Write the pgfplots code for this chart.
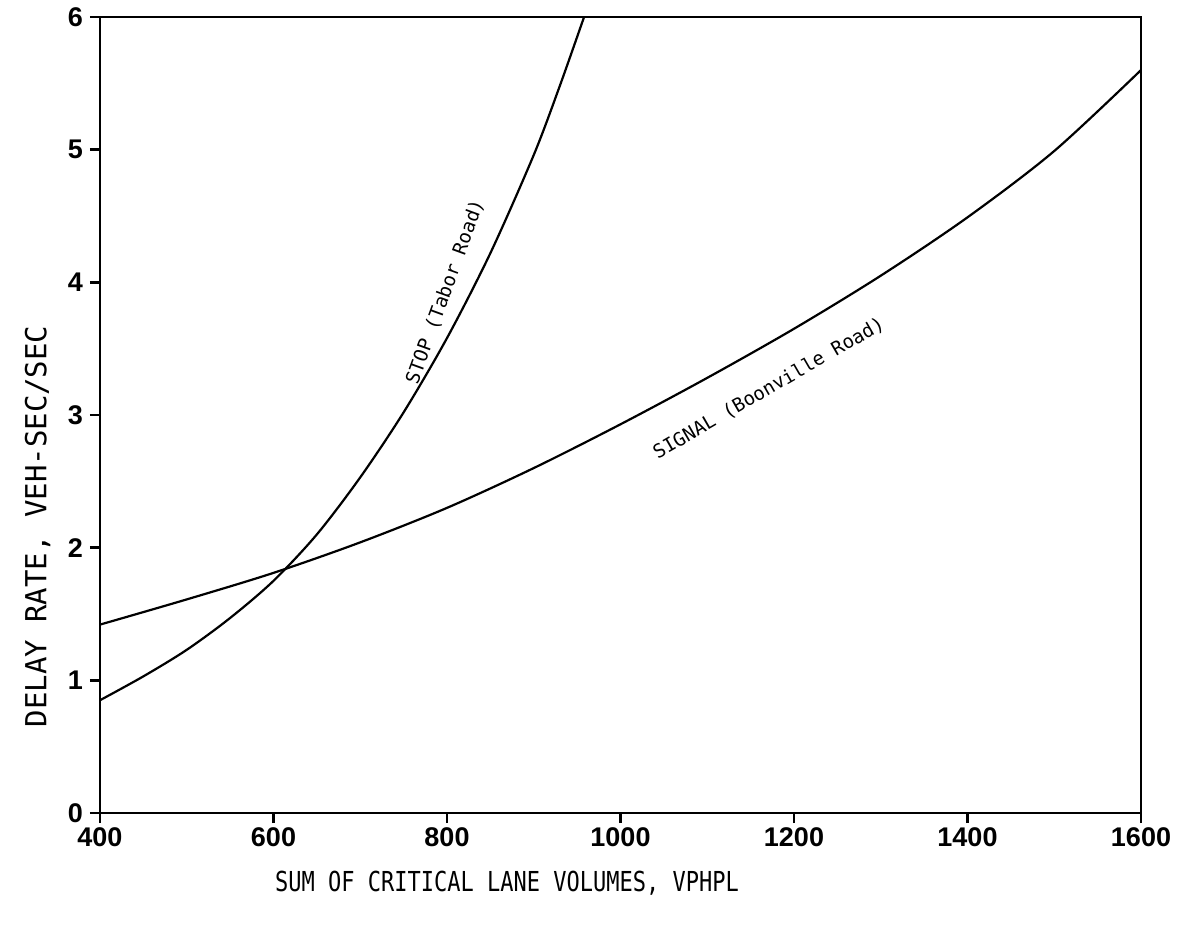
\documentclass[border=0pt]{standalone}
\usepackage{pgfplots}
\pgfplotsset{compat=1.18}
\usepackage{fontspec}
\setsansfont{Liberation Sans}
\newfontfamily\plotmono{DejaVu Sans Mono}

\begin{document}
\begin{tikzpicture}
  % picture size of the reference: 1189 x 926 px -> 594.5 x 463 pt
  \path[use as bounding box] (-50pt,-56.5pt) rectangle (544.5pt,406.5pt);
  \begin{axis}[
      at={(0,0)}, anchor=south west,
      scale only axis,
      width=520.5pt, height=398pt,
      xmin=400, xmax=1600, ymin=0, ymax=6,
      xtick={400,600,...,1600},
      ytick={0,1,...,6},
      xtick pos=bottom, ytick pos=left,
      tick align=outside,
      major tick length=5pt,
      axis line style={line width=1.4pt},
      every tick/.style={line width=1.2pt, black},
      /pgf/number format/1000 sep={},
      /pgf/number format/assume math mode=true,
      ticklabel style={font=\sffamily\bfseries\fontsize{13.5}{15}\selectfont},
      xticklabel style={yshift=1pt},
      xlabel={\scalebox{1}[1.25]{SUM OF CRITICAL LANE VOLUMES, VPHPL}},
      xlabel style={font=\plotmono\fontsize{11}{13}\selectfont,
        at={(axis description cs:0.391,-0.088)}, anchor=center},
      ylabel={DELAY RATE, VEH-SEC/SEC},
      ylabel style={font=\plotmono\fontsize{14.5}{16}\selectfont,
        at={(axis description cs:-0.06,0.36)}, anchor=center},
      clip=false,
    ]
    % SIGNAL (Boonville Road)
    \addplot[black, line width=1.1pt, smooth] coordinates {
      (400,1.42) (500,1.61) (600,1.81) (700,2.04) (800,2.30) (900,2.60)
      (1000,2.93) (1100,3.28) (1200,3.65) (1300,4.05) (1400,4.49)
      (1500,4.99) (1600,5.60)
    };
    % STOP (Tabor Road)
    \addplot[black, line width=1.1pt, smooth] coordinates {
      (400,0.85) (450,1.03) (500,1.23) (550,1.47) (600,1.75) (650,2.10)
      (700,2.53) (750,3.02) (800,3.58) (850,4.22) (900,4.96) (930,5.48)
      (958,6.00)
    };
    \node[font=\plotmono\fontsize{9.5}{11}\selectfont, rotate=70]
      at (axis cs:798,3.93) {STOP (Tabor Road)};
    \node[font=\plotmono\fontsize{9.5}{11}\selectfont, rotate=30]
      at (axis cs:1171,3.20) {SIGNAL (Boonville Road)};
  \end{axis}
\end{tikzpicture}
\end{document}
